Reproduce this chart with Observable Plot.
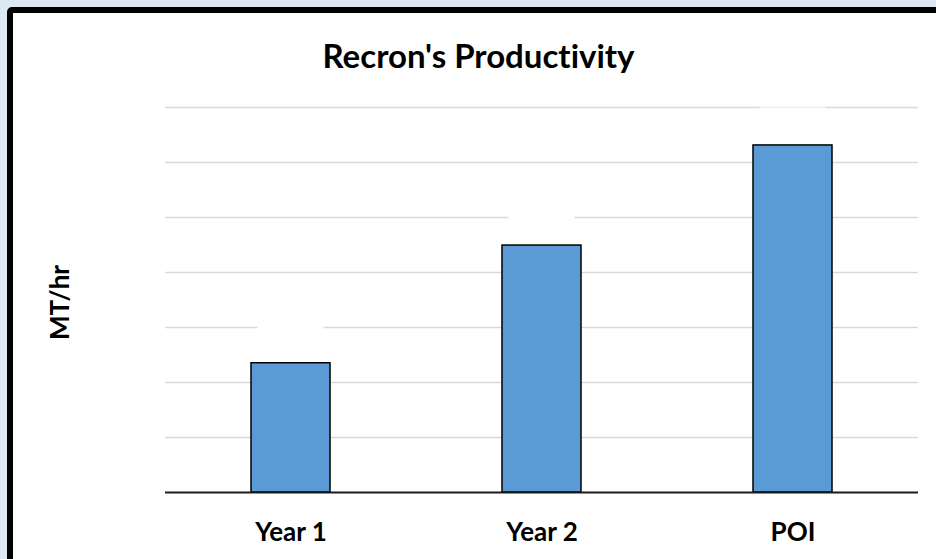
<!DOCTYPE html>
<html>
<head>
<meta charset="utf-8">
<script src="https://cdn.jsdelivr.net/npm/d3@7"></script>
<script src="https://cdn.jsdelivr.net/npm/@observablehq/plot@0.6"></script>
<style>
  html, body { margin: 0; padding: 0; width: 936px; height: 559px; overflow: hidden; background: #dde8f4; }
  #box { position: absolute; left: 7px; top: 7px; width: 960px; height: 600px; border: 6px solid #000; border-radius: 5px; background: #fff; }
  #chart { position: absolute; left: 13px; top: 13px; }
  #chart svg text { font-family: Lato, "Open Sans", sans-serif; font-variant-ligatures: none; }
  #chart g[aria-label="x-axis tick label"] text { font-weight: bold; font-size: 26px; fill: #000; }
</style>
</head>
<body>
<div id="box"></div>
<div id="chart"></div>
<script>
const title = "Recron's Productivity";
const yLabel = "MT/hr";
const categories = ["Year 1", "Year 2", "POI"];
const values = [2.35, 4.49, 6.31];
const gridTicks = [1, 2, 3, 4, 5, 6, 7];
const yMax = 7;
const labelBox = 0.8; // hidden data-label box height, in data units

const data = categories.map((c, i) => ({category: c, value: values[i]}));

const chart = Plot.plot({
  width: 923,
  height: 546,
  marginLeft: 152,
  marginRight: 18,
  marginTop: 94,
  marginBottom: 67,
  style: {fontFamily: "Lato, 'Open Sans', sans-serif", color: "#000", background: "transparent", overflow: "visible"},
  x: {type: "band", domain: categories, paddingInner: 0.685, paddingOuter: 0.3425, axis: null},
  y: {domain: [0, yMax], axis: null},
  marks: [
    Plot.ruleY(gridTicks, {stroke: "#d9d9d9", strokeWidth: 1.5}),
    Plot.barY(data, {x: "category", y1: "value", y2: d => d.value + labelBox, fill: "#fff", inset: 6.5}),
    Plot.barY(data, {x: "category", y: "value", fill: "#5b9bd5", stroke: "#000", strokeWidth: 1.5}),
    Plot.ruleY([0], {stroke: "#1a1a1a", strokeWidth: 2}),
    Plot.axisX({tickSize: 0, tickPadding: 30, fontSize: 26, fontWeight: "bold", fill: "#000", label: null}),
    Plot.text([yLabel], {frameAnchor: "left", textAnchor: "middle", dx: -105, dy: 2.5, rotate: -90, fontSize: 26, fontWeight: "bold", fill: "#000"}),
    Plot.text([title], {frameAnchor: "top", textAnchor: "middle", dx: -63.5, dy: -49.6, lineAnchor: "middle", fontSize: 33, fontWeight: "bold", fill: "#000"})
  ]
});
document.getElementById("chart").appendChild(chart);
</script>
</body>
</html>
